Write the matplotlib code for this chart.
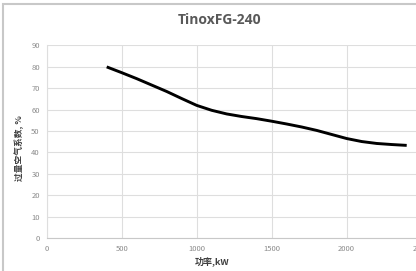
import matplotlib
matplotlib.use("Agg")
import matplotlib.pyplot as plt
from matplotlib.patches import Rectangle

plt.rcParams['font.family'] = ['Noto Sans CJK SC', 'DejaVu Sans']

title = "TinoxFG-240"
x_label = "功率,kW"
y_label = "过量空气系数, %"
power_kw = [400, 500, 600, 700, 800, 900, 1000, 1100, 1200, 1300, 1400,
            1500, 1600, 1700, 1800, 1900, 2000, 2100, 2200, 2300, 2400]
excess_air = [80.0, 77.3, 74.5, 71.5, 68.5, 65.2, 62.0, 59.7, 58.0, 56.8, 55.8,
              54.6, 53.3, 51.9, 50.3, 48.4, 46.5, 45.1, 44.2, 43.7, 43.3]
x_ticks = [0, 500, 1000, 1500, 2000, 2500]
y_ticks = [0, 10, 20, 30, 40, 50, 60, 70, 80, 90]

fig = plt.figure(figsize=(4.16, 2.71), dpi=100)
fig.patch.set_facecolor('white')

# outer chart border
fig.patches.append(Rectangle((3/416, -0.05), 1.2, 1 - 4/271 + 0.05,
                             transform=fig.transFigure, fill=False,
                             edgecolor='#c8c8c8', linewidth=1.5))

ax = fig.add_axes([46.7/416, 1 - 238/271, (421.7 - 46.7)/416, (238 - 45.5)/271])
ax.plot(power_kw, excess_air, color='black', linewidth=2.1,
        solid_capstyle='butt', solid_joinstyle='round')
ax.set_xlim(0, 2500)
ax.set_ylim(0, 90)
ax.set_xticks(x_ticks)
ax.set_yticks(y_ticks)
ax.grid(True, color='#dedede', linewidth=0.8)
ax.set_axisbelow(True)
for s in ['top', 'right']:
    ax.spines[s].set_visible(False)
ax.spines['left'].set_color('#dedede')
ax.spines['bottom'].set_color('#c8c8c8')
ax.tick_params(length=0, labelsize=5.5, labelcolor='#8a8a8a', pad=5)

ax.set_xlabel(x_label, fontsize=6.5, fontweight='bold', color='#404040')
ax.xaxis.set_label_coords((212 - 46.7)/375, (238 - 261)/192.5)
ax.xaxis.label.set_va('center')
ax.set_ylabel(y_label, fontsize=6.3, fontweight='bold', color='#404040')
ax.yaxis.set_label_coords((19.5 - 46.7)/375, (238 - 148)/192.5)
ax.yaxis.label.set_va('center')
fig.text(220/416, 1 - 20/271, title, ha='center', va='center',
         fontsize=10, fontweight='bold', color='#595959', family=['Open Sans', 'DejaVu Sans'])

fig.savefig("out.png", dpi=100)
